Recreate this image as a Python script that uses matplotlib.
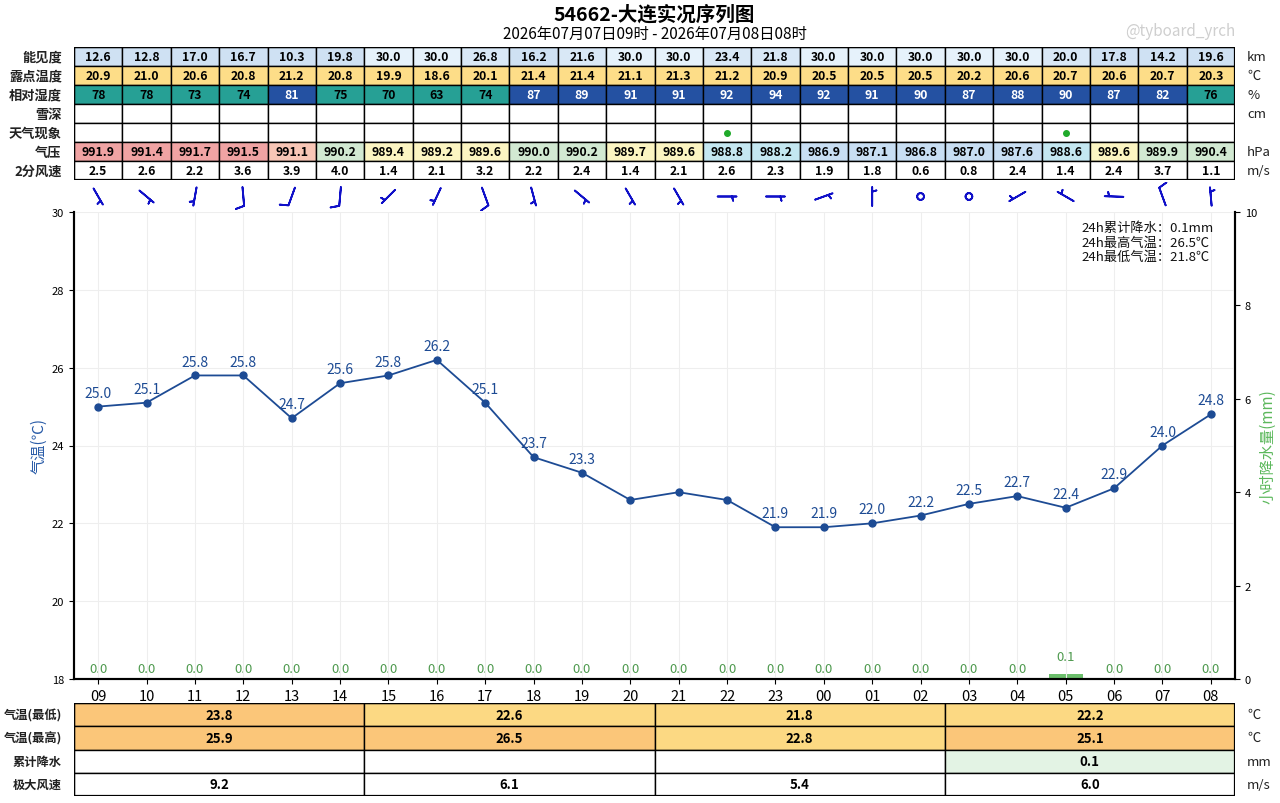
import matplotlib
matplotlib.use("Agg")
import matplotlib.pyplot as plt
from matplotlib.patches import Rectangle
import numpy as np

plt.rcParams['font.family'] = ['Noto Sans CJK SC', 'DejaVu Sans']
plt.rcParams['axes.unicode_minus'] = False

# ---------------- data ----------------
hours = ['09', '10', '11', '12', '13', '14', '15', '16', '17', '18', '19', '20',
         '21', '22', '23', '00', '01', '02', '03', '04', '05', '06', '07', '08']
temp = [25.0, 25.1, 25.8, 25.8, 24.7, 25.6, 25.8, 26.2, 25.1, 23.7, 23.3, 22.6,
        22.8, 22.6, 21.9, 21.9, 22.0, 22.2, 22.5, 22.7, 22.4, 22.9, 24.0, 24.8]
precip = [0.0, 0.0, 0.0, 0.0, 0.0, 0.0, 0.0, 0.0, 0.0, 0.0, 0.0, 0.0,
          0.0, 0.0, 0.0, 0.0, 0.0, 0.0, 0.0, 0.0, 0.1, 0.0, 0.0, 0.0]
vis = [12.6, 12.8, 17.0, 16.7, 10.3, 19.8, 30.0, 30.0, 26.8, 16.2, 21.6, 30.0,
       30.0, 23.4, 21.8, 30.0, 30.0, 30.0, 30.0, 30.0, 20.0, 17.8, 14.2, 19.6]
dew = [20.9, 21.0, 20.6, 20.8, 21.2, 20.8, 19.9, 18.6, 20.1, 21.4, 21.4, 21.1,
       21.3, 21.2, 20.9, 20.5, 20.5, 20.5, 20.2, 20.6, 20.7, 20.6, 20.7, 20.3]
rh = [78, 78, 73, 74, 81, 75, 70, 63, 74, 87, 89, 91,
      91, 92, 94, 92, 91, 90, 87, 88, 90, 87, 82, 76]
pres = [991.9, 991.4, 991.7, 991.5, 991.1, 990.2, 989.4, 989.2, 989.6, 990.0, 990.2, 989.7,
        989.6, 988.8, 988.2, 986.9, 987.1, 986.8, 987.0, 987.6, 988.6, 989.6, 989.9, 990.4]
wspd = [2.5, 2.6, 2.2, 3.6, 3.9, 4.0, 1.4, 2.1, 3.2, 2.2, 2.4, 1.4,
        2.1, 2.6, 2.3, 1.9, 1.8, 0.6, 0.8, 2.4, 1.4, 2.4, 3.7, 1.1]
wdir = [150, 130, 190, 175, 200, 185, 225, 205, 160, 165, 130, 150,
        150, 90, 90, 70, 0, 0, 0, 240, 300, 272, 340, 355]
rain_obs = [0, 0, 0, 0, 0, 0, 0, 0, 0, 0, 0, 0,
            0, 1, 0, 0, 0, 0, 0, 0, 1, 0, 0, 0]
hidden_labels = ['20', '21', '22']

blk_tmin = [23.8, 22.6, 21.8, 22.2]
blk_tmax = [25.9, 26.5, 22.8, 25.1]
blk_prec = [0.0, 0.0, 0.0, 0.1]
blk_gust = [9.2, 6.1, 5.4, 6.0]

top_labels = ['能见度', '露点温度', '相对湿度', '雪深', '天气现象', '气压', '2分风速']
top_units = ['km', '℃', '%', 'cm', '', 'hPa', 'm/s']
bot_labels = ['气温(最低)', '气温(最高)', '累计降水', '极大风速']
bot_units = ['℃', '℃', 'mm', 'm/s']

title = '54662-大连实况序列图'
subtitle = '2026年07月07日09时 - 2026年07月08日08时'
summary = ['24h累计降水：0.1mm', '24h最高气温：26.5℃', '24h最低气温：21.8℃']

# ---------------- colour helpers ----------------
def vis_color(v):
    if v >= 30:
        return '#e6f2fb'
    if v >= 20:
        return '#d9e8f6'
    return '#cfe1f3'

def rh_color(r):
    return '#2451a2' if r >= 80 else '#26a095'

def pres_color(p):
    if p >= 991.3:
        return '#f0a3a3'
    if p >= 991.0:
        return '#f8c6b6'
    if p >= 989.8:
        return '#d2e9d2'
    if p >= 989.0:
        return '#fcf5c2'
    if p >= 988.0:
        return '#c4e7f1'
    return '#c8def3'

def t_color(t):
    return '#fbc679' if t >= 23 else '#fcd983'

# ---------------- figure ----------------
W, H = 1280, 804
fig = plt.figure(figsize=(W / 100, H / 100), dpi=100)

def fax(x0, y0, x1, y1):
    return fig.add_axes([x0 / W, 1 - y1 / H, (x1 - x0) / W, (y1 - y0) / H])

n = len(hours)
X0, X1 = 74, 1235

fig.text((X0 + X1) / 2 / W, 1 - 15 / H, title, ha='center', va='center',
         fontsize=14, fontweight='bold')
fig.text((X0 + X1) / 2 / W, 1 - 34 / H, subtitle, ha='center', va='center', fontsize=11)
fig.text(1235 / W, 1 - 32 / H, '@tyboard_yrch', ha='right', va='center',
         fontsize=11, color='#cfcfcf')

# ---------------- top table ----------------
tax = fax(X0, 48, X1, 181)
tax.set_xlim(0, n)
tax.set_ylim(7, 0)
tax.axis('off')

rows_text = [
    [f'{v:.1f}' for v in vis],
    [f'{v:.1f}' for v in dew],
    [f'{v:d}' for v in rh],
    ['' for _ in hours],
    ['' for _ in hours],
    [f'{v:.1f}' for v in pres],
    [f'{v:.1f}' for v in wspd],
]
rows_col = [
    [vis_color(v) for v in vis],
    ['#fddd88' for _ in dew],
    [rh_color(v) for v in rh],
    ['white' for _ in hours],
    ['white' for _ in hours],
    [pres_color(v) for v in pres],
    ['white' for _ in hours],
]
for r in range(7):
    for i in range(n):
        tax.add_patch(Rectangle((i, r), 1, 1, facecolor=rows_col[r][i],
                                edgecolor='black', lw=1.0))
        txt = rows_text[r][i]
        if txt:
            tc = 'white' if (r == 2 and rh[i] >= 80) else 'black'
            tax.text(i + 0.5, r + 0.5, txt, ha='center', va='center',
                     fontsize=8.8, fontweight='bold', color=tc)
    tax.text(-0.25, r + 0.5, top_labels[r], ha='right', va='center',
             fontsize=9.5, fontweight='bold', color='#222222')
    tax.text(n + 0.25, r + 0.5, top_units[r], ha='left', va='center',
             fontsize=9.5, color='#222222')
for i in range(n):
    if rain_obs[i]:
        tax.plot(i + 0.5, 4.5, 'o', color='#1faa2a', ms=4)
tax.add_patch(Rectangle((0, 0), n, 7, fill=False, edgecolor='black', lw=1.6))

# ---------------- wind barbs ----------------
bax = fax(X0, 183, X1, 212)
bax.set_xlim(-0.5, n - 0.5)
bax.set_ylim(-1, 1)
bax.axis('off')
d = np.deg2rad(np.array(wdir, dtype=float))
s = np.array(wspd)
u = -s * np.sin(d)
v = -s * np.cos(d)
bax.barbs(np.arange(n), np.zeros(n), u, v, length=5.2, pivot='middle',
          color='#1010c8', linewidth=1.3,
          barb_increments=dict(half=2, full=4, flag=20),
          sizes=dict(emptybarb=0.18, spacing=0.16, height=0.45, width=0.25))

# ---------------- main plot ----------------
ax = fax(X0, 213, X1, 680)
ax.set_xlim(-0.5, n - 0.5)
ax.set_ylim(18, 30)
ax.set_yticks(np.arange(18, 31, 2))
ax.set_xticks(np.arange(n))
ax.set_xticklabels(hours, fontsize=10.5)
ax.tick_params(axis='y', labelsize=8)
ax.grid(True, color='#eeeeee', lw=0.8)
ax.set_axisbelow(True)
ax.spines['top'].set_visible(False)
for sp in ['left', 'bottom', 'right']:
    ax.spines[sp].set_linewidth(1.5)
ax.set_ylabel('气温(℃)', color='#2a5ca8', fontsize=11, labelpad=3)

ax2 = ax.twinx()
ax2.set_ylim(0, 10)
ax2.set_yticks(np.arange(0, 11, 2))
ax2.tick_params(axis='y', labelsize=8)
ax2.spines['top'].set_visible(False)
ax2.spines['right'].set_linewidth(1.5)
ax2.spines['left'].set_linewidth(1.5)
ax2.spines['bottom'].set_linewidth(1.5)
ax2.set_ylabel('小时降水量(mm)', color='#5cb85c', fontsize=11, labelpad=2)
ax2.bar(np.arange(n), precip, width=0.7, color='#6cbf6c', zorder=2)
for i, p in enumerate(precip):
    ax2.annotate(f'{p:.1f}', (i, p), xytext=(0, 3 if p == 0 else 8),
                 textcoords='offset points', ha='center', va='bottom',
                 fontsize=9.5, color='#4f9a4f')

ax.set_zorder(ax2.get_zorder() + 1)
ax.patch.set_visible(False)

ax.plot(np.arange(n), temp, '-o', color='#1d4b94', lw=1.3, ms=5, zorder=5)
for i, t in enumerate(temp):
    if hours[i] in hidden_labels:
        continue
    ax.annotate(f'{t:.1f}', (i, t), xytext=(0, 5), textcoords='offset points',
                ha='center', va='bottom', fontsize=10, color='#1d4b94')

for k, line in enumerate(summary):
    ax.text(0.868, 0.966 - k * 0.031, line, transform=ax.transAxes,
            ha='left', va='center', fontsize=9.5, color='#111111')

# ---------------- bottom table ----------------
sax = fax(X0, 704, X1, 797)
sax.set_xlim(0, n)
sax.set_ylim(4, 0)
sax.axis('off')
nb = len(blk_tmin)
bw = n / nb
bot_text = [
    [f'{v:.1f}' for v in blk_tmin],
    [f'{v:.1f}' for v in blk_tmax],
    [f'{v:.1f}' if v > 0 else '' for v in blk_prec],
    [f'{v:.1f}' for v in blk_gust],
]
bot_col = [
    [t_color(v) for v in blk_tmin],
    [t_color(v) for v in blk_tmax],
    ['#e3f3e4' if v > 0 else 'white' for v in blk_prec],
    ['white' for _ in blk_gust],
]
for r in range(4):
    for j in range(nb):
        sax.add_patch(Rectangle((j * bw, r), bw, 1, facecolor=bot_col[r][j],
                                edgecolor='black', lw=1.0))
        if bot_text[r][j]:
            sax.text(j * bw + bw / 2, r + 0.5, bot_text[r][j], ha='center',
                     va='center', fontsize=9.5, fontweight='bold')
    sax.text(-0.25, r + 0.5, bot_labels[r], ha='right', va='center',
             fontsize=8.8, fontweight='bold', color='#222222')
    sax.text(n + 0.25, r + 0.5, bot_units[r], ha='left', va='center',
             fontsize=9.5, color='#222222')
sax.add_patch(Rectangle((0, 0), n, 4, fill=False, edgecolor='black', lw=1.6))

fig.savefig('out.png', dpi=100, facecolor='white')
